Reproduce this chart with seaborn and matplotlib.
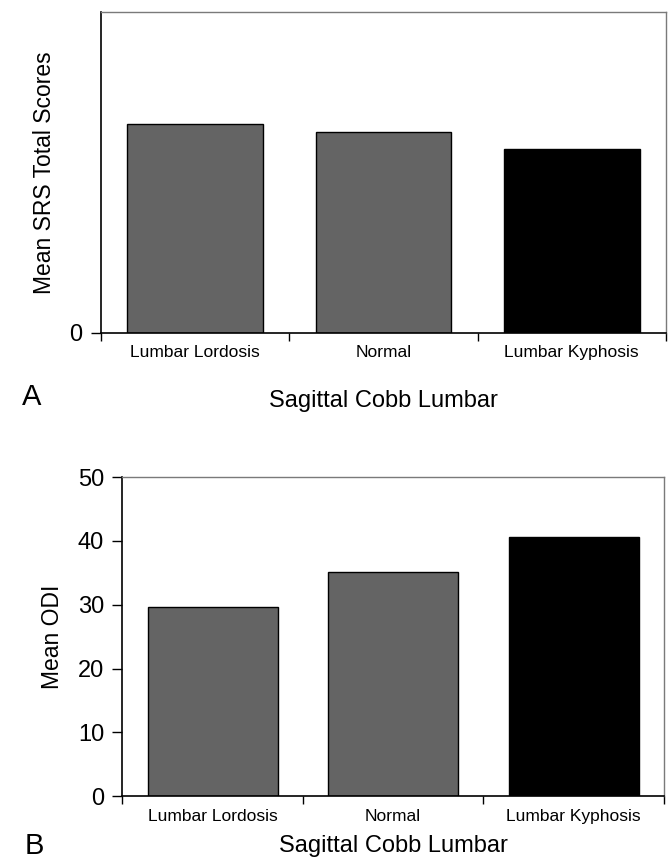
import numpy as np
import pandas as pd
import seaborn as sns
import matplotlib
matplotlib.use('Agg')
import matplotlib.pyplot as plt

# data
groups = ['Lumbar Lordosis', 'Normal', 'Lumbar Kyphosis']
srs_means = [3.26, 3.13, 2.87]      # top panel, axis only labelled at 0
odi_means = [29.7, 35.2, 40.6]      # bottom panel
bar_colors = ['#646464', '#646464', '#000000']

sns.set_theme(style='white')
plt.rcParams['font.family'] = ['Liberation Sans', 'DejaVu Sans']
plt.rcParams['text.color'] = 'black'
plt.rcParams['axes.labelcolor'] = 'black'
plt.rcParams['xtick.color'] = 'black'
plt.rcParams['ytick.color'] = 'black'

fig = plt.figure(figsize=(6.72, 8.58), dpi=100)
ax1 = fig.add_axes([0.150, 0.612, 0.841, 0.374])
ax2 = fig.add_axes([0.182, 0.072, 0.806, 0.372])

palette = dict(zip(groups, bar_colors))


def draw_panel(ax, values, ylim, yticks, ylabel, letter, letter_xy, xlabelpad):
        df = pd.DataFrame({'group': groups, 'value': values})
        sns.barplot(data=df, x='group', y='value', hue='group', palette=palette,
                    order=groups, hue_order=groups, width=0.72, saturation=1,
                    edgecolor='black', linewidth=1.0, legend=False, ax=ax)
        ax.set_xlim(-0.5, 2.5)
        ax.set_ylim(*ylim)
        ax.set_yticks(yticks)
        ax.set_yticklabels([str(t) for t in yticks], fontsize=17)
        # ticks on the category boundaries, labels at the centres
        ax.set_xticks([-0.5, 0.5, 1.5, 2.5])
        ax.set_xticklabels([])
        ax.set_xticks([0, 1, 2], minor=True)
        ax.set_xticklabels(groups, minor=True, fontsize=12.5)
        ax.tick_params(axis='x', which='major', direction='out', length=6, width=1, color='black', bottom=True)
        ax.tick_params(axis='x', which='minor', length=0, pad=9)
        ax.tick_params(axis='y', direction='out', length=7, width=1, color='black', left=True, pad=6)
        ax.set_ylabel(ylabel, fontsize=16.5, labelpad=10)
        ax.set_xlabel('Sagittal Cobb Lumbar', fontsize=17, labelpad=xlabelpad)
        for side in ['left', 'bottom']:
                ax.spines[side].set_color('black')
                ax.spines[side].set_linewidth(1.2)
        for side in ['top', 'right']:
                ax.spines[side].set_color('#7a7a7a')
                ax.spines[side].set_linewidth(1.0)
        ax.text(letter_xy[0], letter_xy[1], letter, transform=ax.transAxes,
                fontsize=21, va='center', ha='left')


draw_panel(ax1, srs_means, (0, 5), [0], 'Mean SRS Total Scores', 'A', (-0.14, -0.2), 21)
draw_panel(ax2, odi_means, (0, 50), [0, 10, 20, 30, 40, 50], 'Mean ODI', 'B', (-0.18, -0.155), 8)

fig.savefig('out.png', dpi=100)
